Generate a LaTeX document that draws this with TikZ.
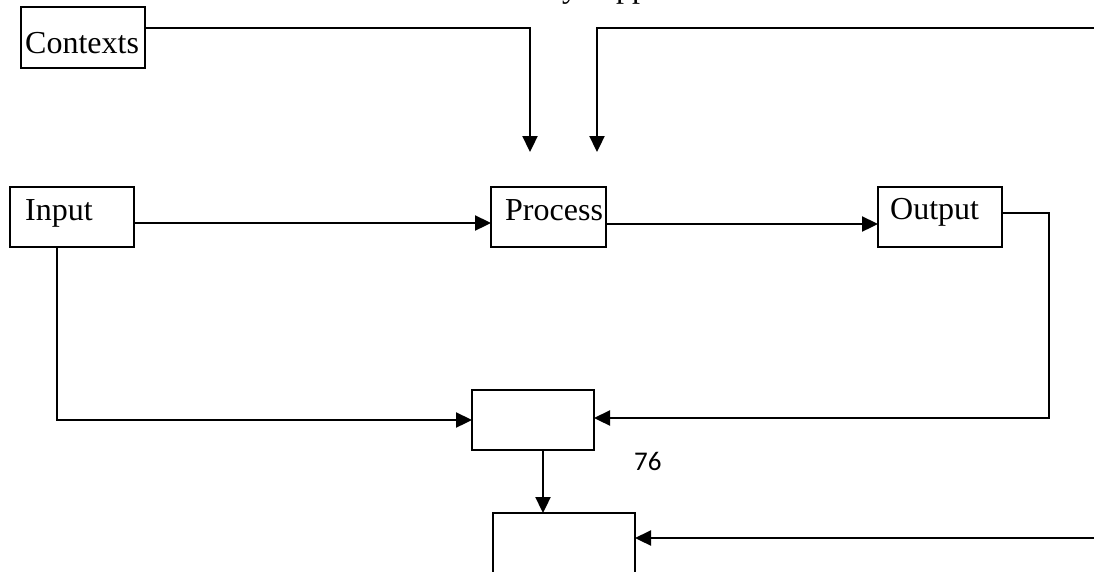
\documentclass[tikz,border=0pt]{standalone}
\usepackage{fontspec}
\setmainfont{Liberation Serif}
\newfontfamily\numfont{Carlito}
\usetikzlibrary{arrows.meta}
\tikzset{
  box/.style={draw=black, line width=2.8pt, anchor=north west, inner sep=0pt, outer sep=0pt},
  lbl/.style={anchor=base west, inner sep=0pt, font=\fontsize{32}{36}\selectfont},
  conn/.style={draw=black, line width=2.3pt},
  arr/.style={conn, -{Triangle[length=16pt, width=15pt]}}
}
\begin{document}
\begin{tikzpicture}[x=1pt, y=-1pt]
\useasboundingbox (0,0) rectangle (1094,571);
% cut-off text at the top
\node[lbl] (topy) at (562,-3) {y};
\node[lbl] (toppp) at (616,-3) {pp};
% boxes
\node[box, minimum width=124pt, minimum height=61pt] (contexts) at (21,7) {};
\node[lbl] (tcontexts) at (25,53) {Contexts};
\node[box, minimum width=124pt, minimum height=60pt] (input) at (10,187) {};
\node[lbl] (tinput) at (25,220) {Input};
\node[box, minimum width=115pt, minimum height=60pt] (process) at (491,187) {};
\node[lbl] (tprocess) at (505,220) {Process};
\node[box, minimum width=124pt, minimum height=60pt] (output) at (878,187) {};
\node[lbl] (toutput) at (890,219) {Output};
\node[box, minimum width=122pt, minimum height=60pt] (boxa) at (472,390) {};
\node[box, minimum width=142pt, minimum height=75pt] (boxb) at (493,513) {};
\node[anchor=base west, inner sep=0pt, font=\numfont\fontsize{27}{30}\selectfont] (page) at (634,470) {76};
% free ends
\coordinate (ctxdrop) at (530,152);
\coordinate (rtop) at (1094,28);
\coordinate (rdrop) at (597,152);
\coordinate (rbot) at (1094,538);
% connectors
\draw[arr] (contexts.east |- 0,28) -- (ctxdrop |- 0,28) -- (ctxdrop);
\draw[arr] (rtop) -- (rdrop |- rtop) -- (rdrop);
\draw[arr] (input.east |- 0,223) -- (process.west |- 0,223);
\draw[arr] (process.east |- 0,224) -- (output.west |- 0,224);
\draw[arr] (output.east |- 0,213) -- (1049,213) -- (1049,418) -- (boxa.east |- 0,418);
\draw[arr] (57,0 |- input.south) -- (57,420) -- (boxa.west |- 0,420);
\draw[arr] (543,0 |- boxa.south) -- (543,0 |- boxb.north);
\draw[arr] (rbot) -- (boxb.east |- rbot);
\end{tikzpicture}
\end{document}
